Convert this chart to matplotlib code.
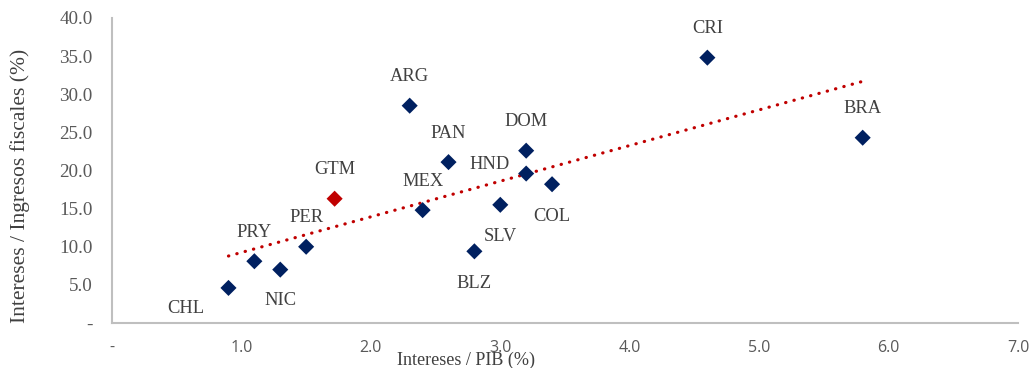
import numpy as np
import matplotlib.pyplot as plt

# data
countries = ['CHL', 'PRY', 'NIC', 'PER', 'GTM', 'MEX', 'ARG', 'PAN',
             'BLZ', 'SLV', 'DOM', 'HND', 'COL', 'CRI', 'BRA']
int_pib = [0.90, 1.10, 1.30, 1.50, 1.72, 2.40, 2.30, 2.60,
           2.80, 3.00, 3.20, 3.20, 3.40, 4.60, 5.80]
int_ingr = [4.6, 8.1, 7.0, 10.0, 16.3, 14.8, 28.5, 21.1,
            9.4, 15.5, 22.6, 19.6, 18.2, 34.8, 24.3]
highlight = 'GTM'

# label offsets in pixels (dx, dy)
offsets = {'CHL': (-43, -21), 'NIC': (0, -31), 'BLZ': (0, -32),
           'SLV': (0, -32), 'COL': (0, -32), 'HND': (-37, 9)}

navy = '#002060'
red = '#C00000'
txt = '#404040'
serif = 'Liberation Serif'

fig = plt.figure(figsize=(10.32, 3.68), dpi=100)
ax = fig.add_axes([112/1032, 1-323/368, 906/1032, 305/368])

colors = [red if c == highlight else navy for c in countries]
ax.scatter(int_pib, int_ingr, marker='D', s=8.2**2, c=colors, zorder=3, linewidths=0)

# linear trend
p = np.polyfit(int_pib, int_ingr, 1)
xs = np.array([min(int_pib), max(int_pib)])
ax.plot(xs, np.polyval(p, xs), color=red, lw=2.3, linestyle=(0, (0.1, 2.6)),
        dash_capstyle='round', zorder=2)

for c, x, y in zip(countries, int_pib, int_ingr):
    dx, dy = offsets.get(c, (0, 29))
    ax.annotate(c, (x, y), xytext=(dx*0.72, dy*0.72), textcoords='offset points',
                ha='center', va='center', fontsize=13.3, family=serif, color=txt)

ax.set_xlim(0, 7)
ax.set_ylim(0, 40)
ax.set_xticks(np.arange(0, 8, 1))
ax.set_yticks(np.arange(0, 45, 5))
ax.set_xticklabels(['-'] + ['%.1f' % v for v in range(1, 8)],
                   family='Open Sans', fontsize=11.5, color='#595959')
ax.set_yticklabels(['-'] + ['%.1f' % v for v in range(5, 45, 5)],
                   family=serif, fontsize=13.8, color='#595959')
ax.tick_params(axis='both', length=0)
ax.tick_params(axis='x', pad=12)
ax.tick_params(axis='y', pad=14)
for s in ['top', 'right']:
    ax.spines[s].set_visible(False)
for s in ['left', 'bottom']:
    ax.spines[s].set_color('#BFBFBF')
    ax.spines[s].set_linewidth(1.5)

fig.text(466/1032, 1-360/368, 'Intereses / PIB (%)', ha='center', va='center',
         family=serif, fontsize=13.1, color=txt)
fig.text(20/1032, 1-186/368, 'Intereses / Ingresos fiscales (%)', ha='center',
         va='center', rotation=90, family=serif, fontsize=15.5, color=txt)

fig.savefig('out.png', dpi=100)
